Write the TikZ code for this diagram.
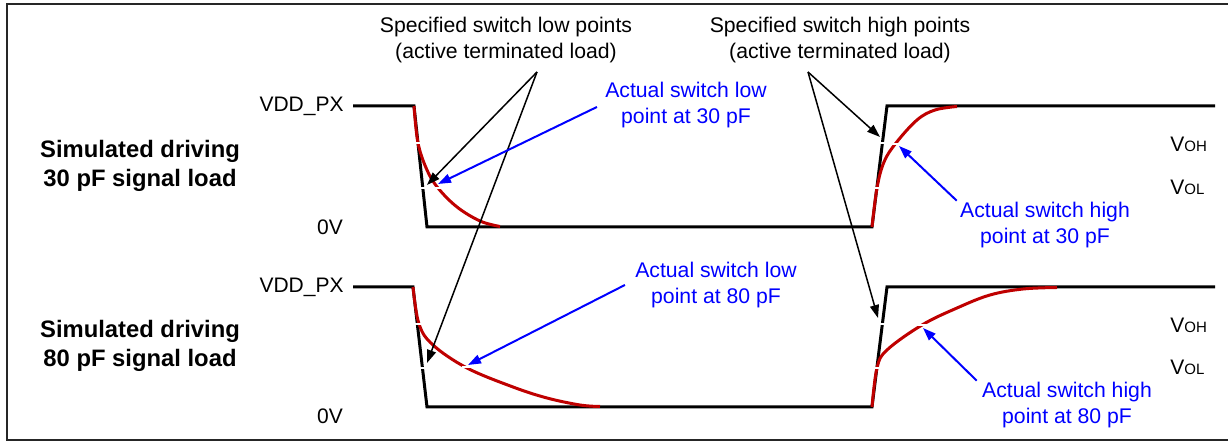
\documentclass[tikz,border=0pt]{standalone}
\usepackage{fontspec}
\setmainfont{Liberation Sans}
\usetikzlibrary{arrows.meta, positioning}

\begin{document}
\begin{tikzpicture}[
    x=0.5pt, y=-0.5pt,
    >={Triangle[length=6.5pt, width=4.5pt]},
    note/.style={
        align=center,
        inner sep=0pt,
        font=\fontsize{10.6}{13}\selectfont
    },
    actual/.style={
        note,
        text=blue
    },
    title/.style={
        align=center,
        inner sep=0pt,
        font=\bfseries\fontsize{11.9}{14.5}\selectfont
    },
    level/.style={
        inner sep=4.5pt,
        font=\fontsize{10.5}{13}\selectfont
    },
    signal/.style={
        line width=1.5pt,
        line join=miter
    },
    curve/.style={
        draw=red!75!black,
        line width=1.5pt
    },
    gap/.style={
        white,
        line width=1pt
    },
    spec/.style={
        ->,
        line width=0.75pt
    },
    act/.style={
        ->,
        blue,
        line width=1pt
    },
    frame/.style={
        draw=black!85,
        line width=1.4pt
    }
]
\useasboundingbox (0,0) rectangle (1228,442);
\draw[frame] (7,4) rectangle (1240,440);

% Left titles and levels
\node[title] (sim30) at (140,166) {Simulated driving\\30 pF signal load};
\node[title] (sim80) at (140,346) {Simulated driving\\80 pF signal load};
\node[level, anchor=east] (vdd30) at (353,106) {VDD\_PX};
\node[level] (gnd30) at (330,227) {0V};
\node[level, anchor=east] (vdd80) at (353,287) {VDD\_PX};
\node[level] (gnd80) at (330,416) {0V};

% Right levels
\node[level, anchor=west, inner sep=0pt] (voh30) at (1170,144) {V{\fontsize{7.5}{9}\selectfont OH}};
\node[level, anchor=west, inner sep=0pt] (vol30) at (1170,187) {V{\fontsize{7.5}{9}\selectfont OL}};
\node[level, anchor=west, inner sep=0pt] (voh80) at (1170,325) {V{\fontsize{7.5}{9}\selectfont OH}};
\node[level, anchor=west, inner sep=0pt] (vol80) at (1170,367) {V{\fontsize{7.5}{9}\selectfont OL}};

% Specified switch points (black)
\node[note] (lowspec) at (506,40) {Specified switch low points\\(active terminated load)};
\node[note] (highspec) at (840,40) {Specified switch high points\\(active terminated load)};

% Actual switch points (blue)
\node[actual] (lo30) at (686,105) {Actual switch low\\point at 30 pF};
\node[actual] (lo80) at (716,285) {Actual switch low\\point at 80 pF};
\node[actual] (hi30) at (1045,225) {Actual switch high\\point at 30 pF};
\node[actual] (hi80) at (1067,405) {Actual switch high\\point at 80 pF};

% Ideal signals
\draw[signal] (vdd30.east) -- (414,106) -- (427,227) -- (872,227) -- (887,106) -- (1215,106);
\draw[signal] (vdd80.east) -- (413,287) -- (427,407) -- (872,407) -- (887,287) -- (1215,287);

% Loaded signals
\draw[curve] plot[smooth, tension=0.6] coordinates {(414,106) (418,143) (427,170) (438,188) (457,207) (480,221) (500,226.5)};
\draw[curve] plot[smooth, tension=0.6] coordinates {(872,227) (877,188) (884,162) (896,143) (917,120) (935,110) (957,106.5)};
\draw[curve] plot[smooth, tension=0.6] coordinates {(413,287) (419,324) (433,345) (467,368) (513,387) (547,398) (580,405) (600,406.5)};
\draw[curve] plot[smooth, tension=0.6] coordinates {(872,407) (877,368) (887,350) (922,325) (957,308) (990,295) (1023,289) (1057,287.5)};

% Threshold marks
\draw[gap] (413,143) -- (423,143);
\draw[gap] (418,188) -- (428,188);
\draw[gap] (433,188) -- (443,188);
\draw[gap] (878,143) -- (887,143);
\draw[gap] (891,144) -- (901,144);
\draw[gap] (871,188) -- (883,188);
\draw[gap] (412,324) -- (424,324);
\draw[gap] (418,368) -- (427,368);
\draw[gap] (462,367) -- (472,367);
\draw[gap] (878,324) -- (887,324);
\draw[gap] (917,325) -- (927,325);
\draw[gap] (871,368) -- (883,368);

% Arrow ends
\coordinate (lowsrc) at (537,72);
\coordinate (highsrc) at (808,72);
\coordinate (lowspec30) at (427,185);
\coordinate (lowspec80) at (427,363);
\coordinate (highspec30) at (880,137);
\coordinate (highspec80) at (878,318);
\coordinate (lowact30) at (438,184);
\coordinate (lowact80) at (468,365);
\coordinate (highact30) at (899,146);
\coordinate (highact80) at (923,328);

\draw[spec] (lowsrc) -- (lowspec30);
\draw[spec] (lowsrc) -- (lowspec80);
\draw[spec] (highsrc) -- (highspec30);
\draw[spec] (highsrc) -- (highspec80);

\draw[act] (lo30.west) ++(-8,2) -- (lowact30);
\draw[act] (lo80.west) ++(-10,0) -- (lowact80);
\draw[act] (hi30.north west) ++(-3,-1) -- (highact30);
\draw[act] (hi80.north west) ++(-5,-1) -- (highact80);

\end{tikzpicture}
\end{document}
